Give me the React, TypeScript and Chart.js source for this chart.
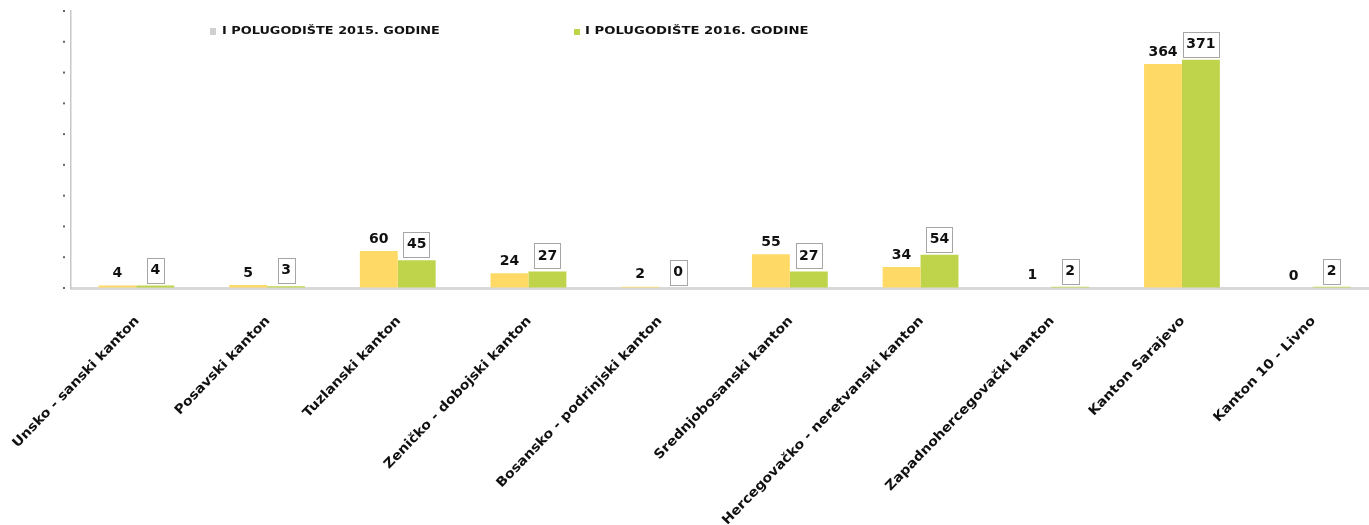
import React, { useEffect, useRef } from "react";
import { Chart, registerables } from "chart.js";

Chart.register(...registerables);

const categories = [
  "Unsko - sanski kanton",
  "Posavski kanton",
  "Tuzlanski kanton",
  "Zeničko - dobojski kanton",
  "Bosansko - podrinjski kanton",
  "Srednjobosanski kanton",
  "Hercegovačko - neretvanski kanton",
  "Zapadnohercegovački kanton",
  "Kanton Sarajevo",
  "Kanton 10 - Livno",
];
const values2015 = [4, 5, 60, 24, 2, 55, 34, 1, 364, 0];
const values2016 = [4, 3, 45, 27, 0, 27, 54, 2, 371, 2];
const seriesLabels = ["I POLUGODIŠTE 2015. GODINE", "I POLUGODIŠTE 2016. GODINE"];
const yTicks = [0, 50, 100, 150, 200, 250, 300, 350, 400, 450];

const COLOR_2015 = "#FFD966";
const COLOR_2016 = "#BFD44A";
const FONT = '"DejaVu Sans", "Liberation Sans", sans-serif';

const W = 1378;
const H = 525;

const overlayPlugin = {
  id: "overlay",
  afterDraw(chart: any) {
    const ctx: CanvasRenderingContext2D = chart.ctx;
    const xs = chart.scales.x;
    const ys = chart.scales.y;
    const area = chart.chartArea;

    // y-axis tick dots
    ctx.save();
    ctx.fillStyle = "#666";
    yTicks.forEach((v) => {
      const py = ys.getPixelForValue(v);
      ctx.fillRect(area.left - 8, py - 1, 2, 2);
    });
    ctx.restore();

    // x-axis labels (rotated)
    categories.forEach((label, i) => {
      const cx = xs.getPixelForValue(i);
      ctx.save();
      ctx.translate(cx + 1, area.bottom + 31);
      ctx.rotate((-46 * Math.PI) / 180);
      ctx.scale(1.09, 1);
      ctx.font = `bold 13px ${FONT}`;
      ctx.fillStyle = "#111";
      ctx.textAlign = "right";
      ctx.textBaseline = "middle";
      ctx.fillText(label, 0, 0);
      ctx.restore();
    });

    // data labels
    const m0 = chart.getDatasetMeta(0);
    const m1 = chart.getDatasetMeta(1);
    ctx.save();
    ctx.font = `bold 14px ${FONT}`;
    ctx.textAlign = "center";
    ctx.textBaseline = "middle";
    m0.data.forEach((el: any, i: number) => {
      ctx.fillStyle = "#111";
      ctx.fillText(String(values2015[i]), el.x, el.y - 12);
    });
    m1.data.forEach((el: any, i: number) => {
      const t = String(values2016[i]);
      const tw = ctx.measureText(t).width;
      const bw = tw + 7;
      const bh = 25;
      const bottom = el.y - 3;
      ctx.fillStyle = "#fff";
      ctx.fillRect(el.x - bw / 2, bottom - bh, bw, bh);
      ctx.strokeStyle = "#a6a6a6";
      ctx.lineWidth = 1;
      ctx.strokeRect(Math.round(el.x - bw / 2) + 0.5, Math.round(bottom - bh) + 0.5, Math.round(bw), bh);
      ctx.fillStyle = "#111";
      ctx.fillText(t, el.x, bottom - bh / 2);
    });
    ctx.restore();

    // legend
    ctx.save();
    ctx.fillStyle = "#d0d0d0";
    ctx.fillRect(210, 28, 6, 7);
    ctx.fillStyle = COLOR_2016;
    ctx.fillRect(574, 29, 6, 6);
    ctx.font = `bold 11px ${FONT}`;
    ctx.fillStyle = "#111";
    ctx.textBaseline = "middle";
    ctx.textAlign = "left";
    ctx.translate(222, 31.5);
    ctx.scale(1.17, 1);
    ctx.fillText(seriesLabels[0], 0, 0);
    ctx.restore();
    ctx.save();
    ctx.font = `bold 11px ${FONT}`;
    ctx.fillStyle = "#111";
    ctx.textBaseline = "middle";
    ctx.textAlign = "left";
    ctx.translate(585, 31.5);
    ctx.scale(1.2, 1);
    ctx.fillText(seriesLabels[1], 0, 0);
    ctx.restore();
  },
};

export default function App() {
  const ref = useRef<HTMLCanvasElement | null>(null);

  useEffect(() => {
    document.body.style.margin = "0";
    document.documentElement.style.overflow = "hidden";
    document.body.style.overflow = "hidden";
    const canvas = ref.current!;
    const chart = new Chart(canvas, {
      type: "bar",
      data: {
        labels: categories,
        datasets: [
          {
            label: seriesLabels[0],
            data: values2015,
            backgroundColor: COLOR_2015,
            borderWidth: 0,
          },
          {
            label: seriesLabels[1],
            data: values2016,
            backgroundColor: COLOR_2016,
            borderWidth: 0,
          },
        ],
      },
      options: {
        responsive: false,
        animation: false,
        layout: { padding: { top: 11, left: 0, right: 0, bottom: 0 } },
        datasets: {
          bar: { categoryPercentage: 0.58, barPercentage: 1.0 },
        },
        plugins: {
          legend: { display: false },
          tooltip: { enabled: false },
          title: { display: false },
        },
        scales: {
          x: {
            ticks: { display: false },
            grid: { display: false },
            border: { display: true, color: "#d9d9d9", width: 3 },
            afterFit: (s: any) => {
              s.height = 237;
            },
          },
          y: {
            min: 0,
            max: 450,
            ticks: { display: false, stepSize: 50 },
            grid: { drawOnChartArea: false, drawTicks: false },
            border: { display: true, color: "#c8c8c8", width: 1.5 },
            afterFit: (s: any) => {
              s.width = 71;
            },
          },
        },
      },
      plugins: [overlayPlugin],
    });
    return () => chart.destroy();
  }, []);

  return (
    <div style={{ width: W, height: H, position: "relative", overflow: "hidden" }}>
      <canvas ref={ref} width={W} height={H} style={{ display: "block" }} />
    </div>
  );
}
